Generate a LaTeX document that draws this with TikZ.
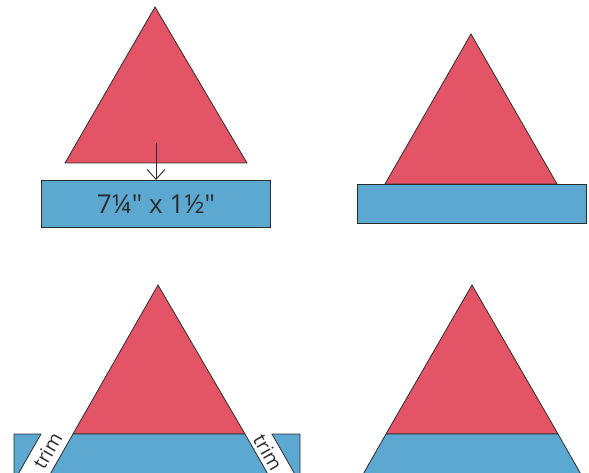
\documentclass[tikz,border=0pt]{standalone}
\usepackage{fontspec}
\setmainfont{Open Sans}[Ligatures=TeXOff]
\usetikzlibrary{arrows.meta}
\definecolor{tri}{RGB}{227,85,102}
\definecolor{band}{RGB}{93,168,209}
\definecolor{edge}{RGB}{45,45,45}
\tikzset{
  redpart/.style={fill=tri,draw=edge,line width=0.8pt,line join=miter},
  bluepart/.style={fill=band,draw=edge,line width=0.8pt,line join=miter},
  trimlabel/.style={font=\fontsize{19.5}{19.5}\selectfont,text=edge,inner sep=0pt}
}
\begin{document}
\begin{tikzpicture}[x=1pt,y=-1pt]
\useasboundingbox (0,0) rectangle (589,473);
\begin{scope}
\clip (0,0) rectangle (589,473);
% top-left
\draw[redpart] (155,7) -- (247,163) -- (65,163) -- cycle;
\node[bluepart,draw,minimum width=229pt,minimum height=47pt,inner sep=0pt,anchor=north west,
  font=\fontsize{26}{26}\selectfont,text=edge] (strip) at (41,180) {7¼" x 1½"};
\coordinate (arrtop) at (156,143);
\draw[edge,line width=0.9pt,-{Straight Barb[length=10pt,width=18pt,line width=0.9pt]}] (arrtop) -- (strip.north -| arrtop);
% top-right
\draw[redpart] (471,34) -- (557,184) -- (385,184) -- cycle;
\draw[bluepart] (357,184) rectangle (586,223);
% bottom-left
\draw[redpart] (158,285) -- (245,434) -- (73,434) -- cycle;
\draw[bluepart] (73,434) -- (245,434) -- (271.2,480) -- (46.8,480) -- cycle;
\draw[bluepart] (14,480) -- (14,434) -- (41,434) -- (14.8,480);
\draw[bluepart] (300,480) -- (300,434) -- (272,434) -- (298.2,480);
\node[trimlabel,rotate=60.3] (trimL) at (47.5,451) {trim};
\node[trimlabel,rotate=-60.3] (trimR) at (268,452.5) {trim};
% bottom-right
\draw[redpart] (472,285) -- (558,434) -- (386,434) -- cycle;
\draw[bluepart] (386,434) -- (558,434) -- (584.2,480) -- (359.8,480) -- cycle;
\end{scope}
\end{tikzpicture}
\end{document}
